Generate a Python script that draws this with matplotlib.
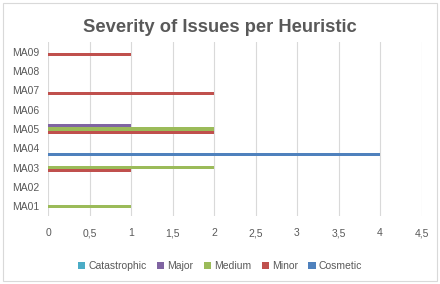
import numpy as np
import matplotlib
matplotlib.use("Agg")
import matplotlib.pyplot as plt
from matplotlib.patches import Rectangle

# Data
heuristics = ["MA01", "MA02", "MA03", "MA04", "MA05", "MA06", "MA07", "MA08", "MA09"]
cosmetic = [0, 0, 0, 4, 0, 0, 0, 0, 0]
minor = [0, 0, 1, 0, 2, 0, 2, 0, 1]
medium = [1, 0, 2, 0, 2, 0, 0, 0, 0]
major = [0, 0, 0, 0, 1, 0, 0, 0, 0]
catastrophic = [0, 0, 0, 0, 0, 0, 0, 0, 0]

x_ticks = [0, 0.5, 1, 1.5, 2, 2.5, 3, 3.5, 4, 4.5]
x_tick_labels = ["0", "0,5", "1", "1,5", "2", "2,5", "3", "3,5", "4", "4,5"]

# Excel plots the first series at the bottom of each cluster
series = [
    ("Cosmetic", cosmetic, "#4F81BD"),
    ("Minor", minor, "#C0504D"),
    ("Medium", medium, "#9BBB59"),
    ("Major", major, "#8064A2"),
    ("Catastrophic", catastrophic, "#4BACC6"),
]

text_color = "#595959"
plt.rcParams["font.family"] = ["Liberation Sans", "DejaVu Sans"]

fig = plt.figure(figsize=(4.4, 2.84), dpi=100)
fig.patch.set_facecolor("white")

# light chart-area border
fig.add_artist(Rectangle((3 / 440, 3 / 284), 434 / 440, 278 / 284, transform=fig.transFigure,
                         fill=False, edgecolor="#D9D9D9", linewidth=0.8))

ax = fig.add_axes([48 / 440, 1 - 216 / 284, 373.5 / 440, 174 / 284])

y = np.arange(len(heuristics))
bar_h = 0.16
offsets = (np.arange(len(series)) - (len(series) - 1) / 2) * bar_h
for (name, vals, color), off in zip(series, offsets):
    ax.barh(y + off, vals, height=bar_h, color=color, label=name, zorder=3)

ax.set_xlim(0, 4.5)
ax.set_ylim(-0.5, len(heuristics) - 0.5)
ax.set_xticks(x_ticks)
ax.set_xticklabels(x_tick_labels)
ax.set_yticks(y)
ax.set_yticklabels(heuristics)
ax.tick_params(length=0, labelsize=7.5, colors=text_color, pad=9)
ax.tick_params(axis="y", pad=6)
ax.grid(axis="x", color="#D9D9D9", linewidth=0.8, zorder=0)
for s in ax.spines.values():
    s.set_visible(False)

fig.text(0.5, 1 - 27 / 284, "Severity of Issues per Heuristic", ha="center", va="center",
         fontsize=13.2, fontweight="bold", color=text_color)

handles, labels = ax.get_legend_handles_labels()
leg = fig.legend(handles[::-1], labels[::-1], loc="center", bbox_to_anchor=(0.5, 1 - 266 / 284),
                 ncol=5, frameon=False, fontsize=7.5, handlelength=0.7, handleheight=0.7,
                 handletextpad=0.3, columnspacing=1.0, labelcolor=text_color)

fig.savefig("out.png", dpi=100, facecolor="white")
